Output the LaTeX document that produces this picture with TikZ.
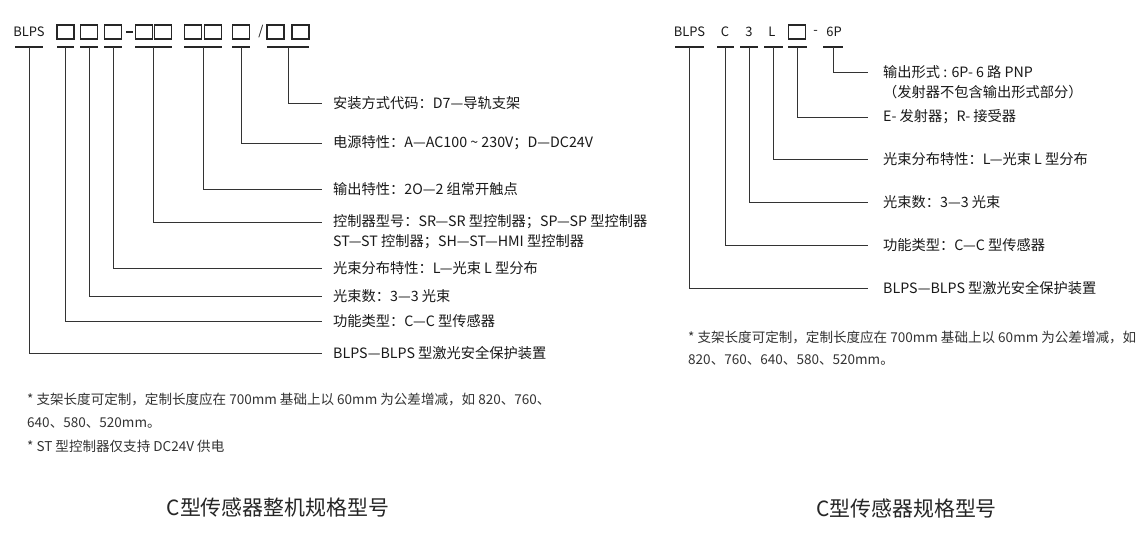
\documentclass[tikz,border=0pt]{standalone}
\usepackage{fontspec}
\setmainfont{Noto Sans CJK SC}
\usetikzlibrary{calc}
\tikzstyle{code_box}=[rectangle,draw=black!85,line width=1.6pt,inner sep=0pt,minimum width=17,minimum height=14]
\tikzstyle{code_text}=[inner sep=0pt,text=black!90,font=\fontsize{13}{13}\selectfont]
\tikzstyle{bar}=[rectangle,fill=black!85,inner sep=0pt,minimum height=1.6pt]
\tikzstyle{lead}=[draw=black!80,line width=0.9pt]
\tikzstyle{label_text}=[anchor=west,inner sep=0pt,text=black!90,font=\fontsize{14.3}{14.3}\selectfont]
\tikzstyle{note_text}=[anchor=west,inner sep=0pt,text=black!80,font=\fontsize{13.6}{13.6}\selectfont]
\tikzstyle{title_text}=[inner sep=0pt,text=black!85,font=\fontsize{21}{21}\selectfont]
\begin{document}
\begin{tikzpicture}[x=1bp,y=-1bp]
\fill[white] (0,0) rectangle (1141,543);
\useasboundingbox (0,0) rectangle (1141,543);

% full model code
\node[code_text] (blps) at (29,32) {BLPS};
\node[code_box] (first_box) at (65.5,32) {};
\node[code_box] (second_box) at (89,32) {};
\node[code_box] (third_box) at (113,32) {};
\node[bar,minimum width=7,minimum height=2.4pt] (dash) at (129.5,32) {};
\node[code_box] (fourth_box) at (144,32) {};
\node[code_box] (fifth_box) at (163,32) {};
\node[code_box] (sixth_box) at (193,32) {};
\node[code_box] (seventh_box) at (213,32) {};
\node[code_box] (eighth_box) at (241,32) {};
\node[code_text] (slash) at (261,32) {/};
\node[code_box] (ninth_box) at (275.5,32) {};
\node[code_box] (tenth_box) at (300.5,32) {};

\node[bar,minimum width=28] (blps_bar) at (29,47) {};
\node[bar,minimum width=17] (type_bar) at (65.5,47) {};
\node[bar,minimum width=18] (beams_bar) at (89,47) {};
\node[bar,minimum width=18] (layout_bar) at (113,47) {};
\node[bar,minimum width=37] (ctrl_bar) at (153.5,47) {};
\node[bar,minimum width=38] (output_bar) at (203,47) {};
\node[bar,minimum width=18] (power_bar) at (241,47) {};
\node[bar,minimum width=42] (mount_bar) at (288,47) {};

\node[label_text] (mount_text) at (333,103) {安装方式代码：D7—导轨支架};
\node[label_text] (power_text) at (333,143) {电源特性：A—AC100 \textasciitilde{} 230V；D—DC24V};
\node[label_text] (output_text) at (333,189) {输出特性：2O—2 组常开触点};
\node[label_text] (ctrl_text) at (333,222) {控制器型号：SR—SR 型控制器；SP—SP 型控制器};
\node[label_text] (ctrl_more) at ($(ctrl_text.west)+(0,20)$) {ST—ST 控制器；SH—ST—HMI 型控制器};
\node[label_text] (layout_text) at (333,268) {光束分布特性：L—光束 L 型分布};
\node[label_text] (beams_text) at (333,296) {光束数：3—3 光束};
\node[label_text] (type_text) at (333,321) {功能类型：C—C 型传感器};
\node[label_text] (blps_text) at (333,353) {BLPS—BLPS 型激光安全保护装置};

\draw[lead] (mount_bar.center) |- ([xshift=-11pt]mount_text.west);
\draw[lead] (power_bar.center) |- ([xshift=-11pt]power_text.west);
\draw[lead] (output_bar.center) |- ([xshift=-11pt]output_text.west);
\draw[lead] (ctrl_bar.center) |- ([xshift=-11pt]ctrl_text.west);
\draw[lead] (layout_bar.center) |- ([xshift=-11pt]layout_text.west);
\draw[lead] (beams_bar.center) |- ([xshift=-11pt]beams_text.west);
\draw[lead] (type_bar.center) |- ([xshift=-11pt]type_text.west);
\draw[lead] (blps_bar.center) |- ([xshift=-11pt]blps_text.west);

\node[note_text] (first_note) at (27,399) {* 支架长度可定制，定制长度应在 700mm 基础上以 60mm 为公差增减，如 820、760、};
\node[note_text] (first_note_more) at (27,423) {640、580、520mm。};
\node[note_text] (second_note) at (27,446) {* ST 型控制器仅支持 DC24V 供电};
\node[title_text] (left_title) at (278,508) {C型传感器整机规格型号};

% sensor model code
\node[code_text] (r_blps) at (689.5,32) {BLPS};
\node[code_text] (r_type) at (725,32) {C};
\node[code_text] (r_beams) at (749,32) {3};
\node[code_text] (r_layout) at (772,32) {L};
\node[code_box] (r_box) at (797,32) {};
\node[code_text] (r_dash) at (815.5,32) {-};
\node[code_text] (r_output) at (834,32) {6P};

\node[bar,minimum width=29] (r_blps_bar) at (689.5,47) {};
\node[bar,minimum width=17] (r_type_bar) at (725.5,47) {};
\node[bar,minimum width=18] (r_beams_bar) at (749,47) {};
\node[bar,minimum width=19] (r_layout_bar) at (773.5,47) {};
\node[bar,minimum width=19] (r_box_bar) at (797.5,47) {};
\node[bar,minimum width=20] (r_output_bar) at (833,47) {};

\node[label_text] (r_output_text) at (883,72) {输出形式 : 6P- 6 路 PNP};
\node[label_text] (r_output_more) at ($(r_output_text.west)+(0,20)$) {（发射器不包含输出形式部分）};
\node[label_text] (r_box_text) at (883,117) {E- 发射器；R- 接受器};
\node[label_text] (r_layout_text) at (883,159) {光束分布特性：L—光束 L 型分布};
\node[label_text] (r_beams_text) at (883,202) {光束数：3—3 光束};
\node[label_text] (r_type_text) at (883,245) {功能类型：C—C 型传感器};
\node[label_text] (r_blps_text) at (883,288) {BLPS—BLPS 型激光安全保护装置};

\draw[lead] (r_output_bar.center) |- ([xshift=-15pt]r_output_text.west);
\draw[lead] (r_box_bar.center) |- ([xshift=-15pt]r_box_text.west);
\draw[lead] (r_layout_bar.center) |- ([xshift=-15pt]r_layout_text.west);
\draw[lead] (r_beams_bar.center) |- ([xshift=-15pt]r_beams_text.west);
\draw[lead] (r_type_bar.center) |- ([xshift=-15pt]r_type_text.west);
\draw[lead] (r_blps_bar.center) |- ([xshift=-15pt]r_blps_text.west);

\node[note_text] (r_note) at (688,337) {* 支架长度可定制，定制长度应在 700mm 基础上以 60mm 为公差增减，如};
\node[note_text] (r_note_more) at (688,360) {820、760、640、580、520mm。};
\node[title_text] (right_title) at (906.5,509) {C型传感器规格型号};
\end{tikzpicture}
\end{document}
